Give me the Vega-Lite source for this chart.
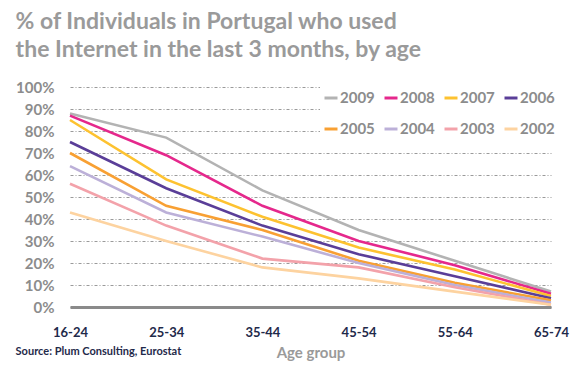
{
  "$schema": "https://vega.github.io/schema/vega-lite/v6.json",
  "background": "white",
  "padding": {"left": 15, "top": 11, "right": 10, "bottom": 3},
  "title": {
    "text": ["% of Individuals in Portugal who used", "the Internet in the last 3 months, by age"],
    "anchor": "start",
    "frame": "bounds",
    "font": "Lato",
    "fontSize": 23,
    "fontWeight": "bold",
    "color": "#9a9a9a",
    "lineHeight": 28,
    "offset": 18
  },
  "config": {
    "view": {"stroke": null},
    "font": "Lato"
  },
  "vconcat": [
    {
      "width": 481,
      "height": 220,
      "title": {
        "text": "Source: Plum Consulting, Eurostat",
        "orient": "bottom",
        "anchor": "start",
        "frame": "bounds",
        "font": "Lato",
        "fontSize": 11,
        "fontWeight": "bold",
        "color": "#1f2a4a",
        "offset": -14
      },
      "data": {
        "values": [
          {"age": "16-24", "year": "2009", "pct": 88},
          {"age": "25-34", "year": "2009", "pct": 77},
          {"age": "35-44", "year": "2009", "pct": 53},
          {"age": "45-54", "year": "2009", "pct": 35},
          {"age": "55-64", "year": "2009", "pct": 21},
          {"age": "65-74", "year": "2009", "pct": 7},
          {"age": "16-24", "year": "2008", "pct": 87},
          {"age": "25-34", "year": "2008", "pct": 69},
          {"age": "35-44", "year": "2008", "pct": 46},
          {"age": "45-54", "year": "2008", "pct": 30},
          {"age": "55-64", "year": "2008", "pct": 19},
          {"age": "65-74", "year": "2008", "pct": 6},
          {"age": "16-24", "year": "2007", "pct": 85},
          {"age": "25-34", "year": "2007", "pct": 58},
          {"age": "35-44", "year": "2007", "pct": 41},
          {"age": "45-54", "year": "2007", "pct": 27},
          {"age": "55-64", "year": "2007", "pct": 17},
          {"age": "65-74", "year": "2007", "pct": 5},
          {"age": "16-24", "year": "2006", "pct": 75},
          {"age": "25-34", "year": "2006", "pct": 54},
          {"age": "35-44", "year": "2006", "pct": 37},
          {"age": "45-54", "year": "2006", "pct": 24},
          {"age": "55-64", "year": "2006", "pct": 14},
          {"age": "65-74", "year": "2006", "pct": 4},
          {"age": "16-24", "year": "2005", "pct": 70},
          {"age": "25-34", "year": "2005", "pct": 46},
          {"age": "35-44", "year": "2005", "pct": 35},
          {"age": "45-54", "year": "2005", "pct": 21},
          {"age": "55-64", "year": "2005", "pct": 11},
          {"age": "65-74", "year": "2005", "pct": 3},
          {"age": "16-24", "year": "2004", "pct": 64},
          {"age": "25-34", "year": "2004", "pct": 43},
          {"age": "35-44", "year": "2004", "pct": 32},
          {"age": "45-54", "year": "2004", "pct": 20},
          {"age": "55-64", "year": "2004", "pct": 10},
          {"age": "65-74", "year": "2004", "pct": 2},
          {"age": "16-24", "year": "2003", "pct": 56},
          {"age": "25-34", "year": "2003", "pct": 37},
          {"age": "35-44", "year": "2003", "pct": 22},
          {"age": "45-54", "year": "2003", "pct": 18},
          {"age": "55-64", "year": "2003", "pct": 9},
          {"age": "65-74", "year": "2003", "pct": 1},
          {"age": "16-24", "year": "2002", "pct": 43},
          {"age": "25-34", "year": "2002", "pct": 30},
          {"age": "35-44", "year": "2002", "pct": 18},
          {"age": "45-54", "year": "2002", "pct": 13},
          {"age": "55-64", "year": "2002", "pct": 7},
          {"age": "65-74", "year": "2002", "pct": 1}
        ]
      },
      "mark": {"type": "line", "strokeWidth": 2.6, "interpolate": "linear"},
      "encoding": {
        "x": {
          "field": "age",
          "type": "ordinal",
          "scale": {"type": "point", "padding": 0},
          "axis": {
            "title": "Age group",
            "titleFont": "Lato",
            "titleFontSize": 15,
            "titleFontWeight": "bold",
            "titleColor": "#9a9a9a",
            "titlePadding": 6,
            "labelAngle": 0,
            "labelFont": "Lato",
            "labelFontSize": 13,
            "labelFontWeight": "bold",
            "labelColor": "#1f2a4a",
            "labelPadding": 19,
            "ticks": false,
            "tickSize": 0,
            "grid": false,
            "domainColor": "#8a8a8a",
            "domainWidth": 3
          }
        },
        "y": {
          "field": "pct",
          "type": "quantitative",
          "scale": {"domain": [0, 100], "nice": false},
          "axis": {
            "title": null,
            "values": [0, 10, 20, 30, 40, 50, 60, 70, 80, 90, 100],
            "labelExpr": "datum.value + '%'",
            "labelFont": "Lato",
            "labelFontSize": 15,
            "labelFontWeight": "bold",
            "labelColor": "#8c8c8c",
            "labelPadding": 16,
            "ticks": false,
            "tickSize": 0,
            "domain": false,
            "grid": true,
            "gridColor": "#9a9a9a",
            "gridWidth": 1,
            "gridDash": [3, 2, 1, 2]
          }
        },
        "color": {
          "field": "year",
          "type": "nominal",
          "sort": ["2009", "2008", "2007", "2006", "2005", "2004", "2003", "2002"],
          "scale": {
            "domain": ["2009", "2008", "2007", "2006", "2005", "2004", "2003", "2002"],
            "range": ["#b3b3b3", "#e5288c", "#fdc230", "#5a3e98", "#f8a033", "#bcb0d8", "#f3a2aa", "#fdd3a0"]
          },
          "legend": {
            "title": null,
            "orient": "none",
            "legendX": 250,
            "legendY": 0,
            "direction": "horizontal",
            "columns": 4,
            "fillColor": "white",
            "padding": 3,
            "symbolType": "stroke",
            "symbolSize": 169,
            "symbolStrokeWidth": 3,
            "labelFont": "Lato",
            "labelFontSize": 15,
            "labelFontWeight": "bold",
            "labelColor": "#8c8c8c",
            "labelOffset": 1,
            "columnPadding": 3,
            "rowPadding": 15
          }
        },
        "order": {"field": "year", "sort": "descending"}
      }
    }
  ]
}
